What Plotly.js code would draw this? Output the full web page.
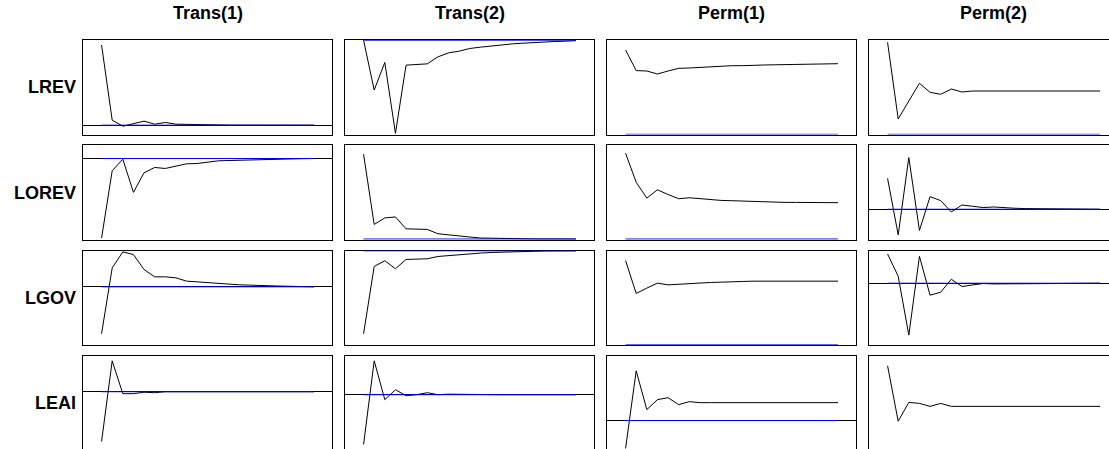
<!DOCTYPE html>
<html>
<head>
<meta charset="utf-8">
<script src="https://cdn.plot.ly/plotly-3.0.1.min.js"></script>
<style>
  html, body { margin: 0; padding: 0; background: #ffffff; overflow: hidden; }
  #chart { width: 1130px; height: 460px; }
</style>
</head>
<body>
<div id="chart"></div>
<script>
// ---- data (responses, x1000) ----
const horizons = [1,2,3,4,5,6,7,8,9,10,11,12,13,14,15,16,17,18,19,20,21];
const rowNames = ['LREV', 'LOREV', 'LGOV', 'LEAI'];
const colNames = ['Trans(1)', 'Trans(2)', 'Perm(1)', 'Perm(2)'];

const LREV_Trans1 = [80, 5, -1, 1.7, 4, 1, 2.7, 1, 0.7, 0.5, 0.3, 0.2, 0.1, 0.05, 0, 0, 0, 0, 0, 0, 0];
const LREV_Trans2 = [0, -50, -22.3, -93.3, -25, -24.7, -23.7, -16.7, -12.7, -11, -8.3, -7, -5.7, -4.7, -3.7, -3, -2.3, -1.7, -1.3, -1, -0.5];
const LREV_Perm1  = [84.3, 63.7, 63.3, 60.3, 63.3, 66, 66.3, 67, 67.7, 68.3, 68.6, 68.6, 69.3, 69.3, 69.5, 69.6, 69.7, 69.8, 70, 70.3, 70.6];
const LREV_Perm2  = [92, 15.3, 33.3, 51, 42, 40, 45.3, 42.3, 43.3, 43.3, 43.3, 43.3, 43.3, 43.3, 43.3, 43.3, 43.3, 43.3, 43.3, 43.3, 43.3];

const LOREV_Trans1 = [-80, -12.3, -0.7, -34, -14.3, -9, -10, -7.3, -5.3, -5, -3.3, -2.3, -2, -1.7, -1.3, -0.7, -0.4, -0.3, -0.2, -0.1, 0];
const LOREV_Trans2 = [85.7, 14.7, 21.3, 22.3, 10.3, 9.7, 9.7, 5.3, 4, 3, 2, 1, 0.7, 0.5, 0.3, 0.2, 0.1, 0.05, 0, 0, 0];
const LOREV_Perm1  = [86.7, 57.3, 41.3, 49.7, 45, 40.7, 41.7, 40.7, 39.3, 39, 38.7, 38.3, 37.7, 37.3, 37.3, 37, 37, 37, 37, 37, 36.7];
const LOREV_Perm2  = [31, -25.7, 52, -21.3, 12.7, 8.7, -2.7, 4.3, 3, 1.7, 2.3, 1.3, 1, 0.7, 0.5, 0.3, 0.2, 0.1, 0, 0, 0];

const LGOV_Trans1 = [-47, 19, 35, 32.3, 17.3, 10, 10, 9, 5.7, 5, 3.7, 3, 2.7, 2, 1.7, 1, 1, 0.7, 0.3, 0.1, 0];
const LGOV_Trans2 = [-83.3, -15.7, -10, -18, -8.7, -8, -8, -5.7, -4.7, -4, -3, -2.3, -1.7, -1.3, -0.7, -0.5, -0.3, -0.2, -0.1, -0.1, 0];
const LGOV_Perm1  = [84.7, 51.7, 57, 62, 60.3, 61, 62, 62.3, 62.7, 63, 63, 63.7, 64, 64, 64, 64, 64, 64, 64, 64, 64];
const LGOV_Perm2  = [29.3, 7, -52, 27, -12, -9, 4, -3.3, -1.7, -0.3, -0.7, -0.7, -0.3, -0.1, 0, 0, 0, 0, 0, 0, 0];

const LEAI_Trans1 = [-50, 31, -2, -2, -0.5, -1, 0, 0, 0, 0, 0, 0, 0, 0, 0, 0, 0, 0, 0, 0, 0];
const LEAI_Trans2 = [-50, 34, -5, 5, -1, 0, 2, 0, 0.5, 0.3, 0, 0, 0, 0, 0, 0, 0, 0, 0, 0, 0];
const LEAI_Perm1  = [-28, 50, 11, 21, 23, 16, 19, 18, 18, 18, 18, 18, 18, 18, 18, 18, 18, 18, 18, 18, 18];
const LEAI_Perm2  = [85, 29, 48, 47, 44, 47, 44, 44, 44, 44, 44, 44, 44, 44, 44, 44, 44, 44, 44, 44, 44];

const zeroLine = [0,0,0,0,0,0,0,0,0,0,0,0,0,0,0,0,0,0,0,0,0];

const series = [
  [LREV_Trans1, LREV_Trans2, LREV_Perm1, LREV_Perm2],
  [LOREV_Trans1, LOREV_Trans2, LOREV_Perm1, LOREV_Perm2],
  [LGOV_Trans1, LGOV_Trans2, LGOV_Perm1, LGOV_Perm2],
  [LEAI_Trans1, LEAI_Trans2, LEAI_Perm1, LEAI_Perm2]
];

// per-panel y ranges (axis setting)
const yRanges = [
  [[-9.3, 85], [-94.5, 0.2], [-0.2, 94.3], [-0.2, 94.3]],
  [[-81.7, 13.3], [-0.8, 94.7], [-0.8, 94.7], [-30.7, 64.3]],
  [[-58.4, 36.3], [-94.7, 0.2], [-0.2, 94.7], [-62, 32.7]],
  [[-59, 36], [-56, 39], [-30, 65], [-0.5, 95]]
];

// ---- layout geometry (pixels in a 1130x460 canvas) ----
const W = 1130, H = 460;
const colLeft0 = 83.3, colStep = 262, boxW = 249;
const rowTop0 = 40, rowStep = 105.3, boxH = 94.5;

const traces = [];
const layout = {
  width: W, height: H,
  margin: {l: 0, r: 0, t: 0, b: 0},
  paper_bgcolor: '#ffffff',
  plot_bgcolor: '#ffffff',
  showlegend: false,
  annotations: [],
  font: {family: 'Liberation Sans, Arial, sans-serif', color: '#000000'}
};

let idx = 0;
for (let r = 0; r < 4; r++) {
  for (let c = 0; c < 4; c++) {
    idx++;
    const sfx = idx === 1 ? '' : String(idx);
    const xa = 'x' + sfx, ya = 'y' + sfx;
    const left = colLeft0 + c * colStep;
    const top = rowTop0 + r * rowStep;
    layout['xaxis' + sfx] = {
      domain: [left / W, (left + boxW) / W],
      anchor: ya,
      range: [-0.72, 22.72],
      showgrid: false, zeroline: false, showticklabels: false, ticks: '',
      showline: true, mirror: true, linecolor: '#000000', linewidth: 1,
      layer: 'below traces',
      fixedrange: true
    };
    layout['yaxis' + sfx] = {
      domain: [1 - (top + boxH) / H, 1 - top / H],
      anchor: xa,
      range: yRanges[r][c],
      showgrid: false, showticklabels: false, ticks: '',
      zeroline: true, zerolinecolor: '#000000', zerolinewidth: 1,
      showline: true, mirror: true, linecolor: '#000000', linewidth: 1,
      layer: 'below traces',
      fixedrange: true
    };
    traces.push({
      type: 'scatter', mode: 'lines',
      x: horizons, y: series[r][c],
      xaxis: xa, yaxis: ya,
      line: {color: '#000000', width: 1},
      hoverinfo: 'skip'
    });
    traces.push({
      type: 'scatter', mode: 'lines',
      x: horizons, y: zeroLine,
      xaxis: xa, yaxis: ya,
      line: {color: '#0000ff', width: 1},
      hoverinfo: 'skip'
    });
  }
}

// column titles
for (let c = 0; c < 4; c++) {
  const cx = colLeft0 + c * colStep + boxW / 2;
  layout.annotations.push({
    text: '<b>' + colNames[c] + '</b>',
    xref: 'paper', yref: 'paper',
    x: cx / W, y: 1 - 13 / H,
    xanchor: 'center', yanchor: 'middle',
    showarrow: false,
    font: {size: 18, family: 'Liberation Sans, Arial, sans-serif', color: '#000000'}
  });
}
// row labels
for (let r = 0; r < 4; r++) {
  const cy = rowTop0 + r * rowStep + boxH / 2;
  layout.annotations.push({
    text: '<b>' + rowNames[r] + '</b>',
    xref: 'paper', yref: 'paper',
    x: 78 / W, y: 1 - cy / H,
    xanchor: 'right', yanchor: 'middle',
    showarrow: false,
    font: {size: 18, family: 'Liberation Sans, Arial, sans-serif', color: '#000000'}
  });
}

Plotly.newPlot('chart', traces, layout, {displayModeBar: false, staticPlot: true});
</script>
</body>
</html>
